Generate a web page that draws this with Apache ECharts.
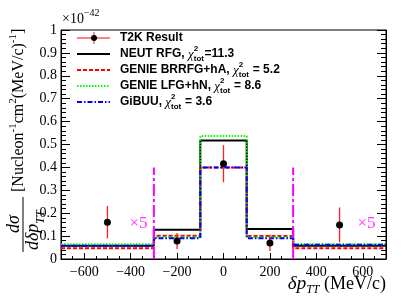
<!DOCTYPE html>
<html>
<head>
<meta charset="utf-8">
<script src="https://cdn.jsdelivr.net/npm/echarts@6/dist/echarts.min.js"></script>
<style>html,body{margin:0;padding:0;background:#fff;}#c{width:407px;height:305px;}</style>
</head>
<body>
<div id="c"></div>
<script>
// ---- data ----
const binEdges = [-700, -300, -100, 100, 300, 700];
const neutRFG = [0.058, 0.128, 0.517, 0.131, 0.058];
const genieBRRFG = [0.047, 0.101, 0.400, 0.100, 0.047];
const genieLFG = [0.064, 0.095, 0.537, 0.095, 0.064];
const gibuu = [0.058, 0.091, 0.400, 0.091, 0.062];
const t2kX = [-500, -200, 0, 200, 500];
const t2kY = [0.161, 0.079, 0.416, 0.070, 0.149];
const t2kErr = [0.071, 0.035, 0.081, 0.036, 0.076];
const xTickLabels = [-600, -400, -200, 0, 200, 400, 600];
const dividerX = [-300, 300];
const dividerTop = 0.4;
const scaleNotes = [[-366, 0.153], [616, 0.153]];
const legendNames = ['NEUT RFG, ', 'GENIE BRRFG+hA, ', 'GENIE LFG+hN, ', 'GiBUU, '];
const legendChi = ['=11.3', ' = 5.2', ' = 8.6', ' = 3.6'];

// ---- helpers ----
const SERIF = '"Liberation Serif", "DejaVu Serif", serif';
const SANS = '"Liberation Sans", Arial, sans-serif';
const cv = document.createElement('canvas').getContext('2d');
function tw(t, f) { cv.font = f; return cv.measureText(t).width; }
function run(x, y, parts, fill) {
  const els = [];
  let cx = x;
  parts.forEach(p => {
    if (p.stack) {
      let w = 0;
      p.stack.forEach(s => {
        els.push({ type: 'text', x: cx, y: y + (s.dy || 0), style: { text: s.t, font: s.f, fill: fill || '#000', textAlign: 'left', textVerticalAlign: 'middle', verticalAlign: 'middle' } });
        w = Math.max(w, tw(s.t, s.f));
      });
      cx += w + (p.gap || 0);
    } else {
      els.push({ type: 'text', x: cx, y: y + (p.dy || 0), style: { text: p.t, font: p.f, fill: fill || '#000', textAlign: 'left', textVerticalAlign: 'middle', verticalAlign: 'middle' } });
      cx += tw(p.t, p.f);
    }
  });
  return els;
}
function stepData(v) {
  const d = v.map((y, i) => [binEdges[i], y]);
  d.push([binEdges[binEdges.length - 1], v[v.length - 1]]);
  return d;
}
const fmtMinus = v => (v < 0 ? '\u2212' + Math.abs(v) : String(v));

const styles = [
  { color: '#000000', type: 'solid', width: 2 },
  { color: '#ff0000', type: [4, 2], width: 2 },
  { color: '#00ff00', type: [1.5, 1.5], width: 2 },
  { color: '#0000ff', type: [5, 2, 1.5, 2], width: 2 }
];
const models = [neutRFG, genieBRRFG, genieLFG, gibuu];

// ---- graphic (titles, legend) ----
const LF = 'bold 12px ' + SANS;
const CHI = 'italic 13px ' + SERIF;
const SUB = 'bold 8px ' + SANS;
const graphics = [];

graphics.push(...run(62, 19, [{ t: '\u00d710', f: '14px ' + SERIF }, { t: '\u221242', f: '10px ' + SERIF, dy: -6 }]));

(function () {
  const parts = [{ t: '\u03b4p', f: 'italic 19px ' + SERIF }, { t: 'TT', f: 'italic 12px ' + SERIF, dy: 6 }, { t: ' (MeV/c)', f: '18px ' + SERIF }];
  let w = 0; parts.forEach(p => w += tw(p.t, p.f));
  graphics.push(...run(386 - w, 284, parts));
})();

(function () {
  const ch = [];
  ch.push({ type: 'line', shape: { x1: 0, y1: 0, x2: 55, y2: 0 }, style: { stroke: '#000', lineWidth: 1 } });
  ch.push({ type: 'text', x: 28, y: -9, style: { text: 'd\u03c3', font: 'italic 18px ' + SERIF, fill: '#000', textAlign: 'center', textVerticalAlign: 'middle', verticalAlign: 'middle' } });
  ch.push(...run(2, 10, [{ t: 'd\u03b4p', f: 'italic 18px ' + SERIF }, { t: 'TT', f: 'italic 12px ' + SERIF, dy: 8 }]));
  const F = '16px ' + SERIF, S = '11px ' + SERIF;
  ch.push(...run(60, -4, [{ t: '[Nucleon', f: F }, { t: '-1', f: S, dy: -6 }, { t: 'cm', f: F }, { t: '2', f: S, dy: -6 }, { t: '(MeV/c)', f: F }, { t: '-1', f: S, dy: -6 }, { t: ']', f: F }]));
  graphics.push({ type: 'group', x: 23, y: 252, rotation: Math.PI / 2, children: ch });
})();

const rowY = [38, 54, 70, 86, 102];
graphics.push({ type: 'line', shape: { x1: 77, y1: rowY[0], x2: 110, y2: rowY[0] }, style: { stroke: '#ff0000', lineWidth: 1 } });
graphics.push({ type: 'line', shape: { x1: 94, y1: rowY[0] - 6, x2: 94, y2: rowY[0] + 6 }, style: { stroke: '#ff6666', lineWidth: 1.5 } });
graphics.push({ type: 'circle', shape: { cx: 94, cy: rowY[0], r: 3 }, style: { fill: '#000' } });
graphics.push(...run(120, rowY[0], [{ t: 'T2K Result', f: LF }]));
legendNames.forEach((n, i) => {
  const y = rowY[i + 1];
  const st = styles[i];
  graphics.push({ type: 'line', shape: { x1: 77, y1: y, x2: 110, y2: y }, style: { stroke: st.color, lineWidth: st.width, lineDash: st.type === 'solid' ? null : st.type } });
  graphics.push(...run(120, y, [{ t: n, f: LF }, { t: '\u03c7', f: CHI, dy: 1 }, { stack: [{ t: '2', f: SUB, dy: -5 }, { t: 'tot', f: SUB, dy: 5 }], gap: 0.5 }, { t: legendChi[i], f: LF }]));
});

// ---- series ----
const series = [];
models.forEach((m, i) => {
  const st = styles[i];
  series.push({ type: 'line', step: 'end', data: stepData(m), symbol: 'none', lineStyle: { color: st.color, type: st.type, width: st.width }, z: 2 + i, silent: true, animation: false });
});
series.push({
  type: 'custom', data: dividerX.map(x => [x]), z: 10, animation: false,
  renderItem: (p, api) => {
    const x = api.value(0);
    const a = api.coord([x, 0]), b = api.coord([x, dividerTop]);
    return { type: 'line', shape: { x1: a[0], y1: a[1], x2: b[0], y2: b[1] }, style: { stroke: '#ff00ff', lineWidth: 2, lineDash: [12, 3, 3, 3] } };
  }
});
series.push({
  type: 'custom', data: t2kX.map((x, i) => [x, t2kY[i], t2kErr[i]]), z: 11, animation: false,
  renderItem: (p, api) => {
    const x = api.value(0), y = api.value(1), e = api.value(2);
    const a = api.coord([x, y - e]), b = api.coord([x, y + e]);
    return { type: 'line', shape: { x1: a[0], y1: a[1], x2: b[0], y2: b[1] }, style: { stroke: '#ff2020', lineWidth: 1.3 } };
  }
});
series.push({ type: 'scatter', data: t2kX.map((x, i) => [x, t2kY[i]]), symbol: 'circle', symbolSize: 7, itemStyle: { color: '#000', opacity: 1 }, z: 12, animation: false });
series.push({
  type: 'scatter', data: scaleNotes, symbolSize: 0, z: 12, animation: false,
  label: { show: true, position: 'inside', formatter: '\u00d75', color: '#ff00ff', fontFamily: SERIF, fontSize: 17 }
});

const chart = echarts.init(document.getElementById('c'), null, { renderer: 'canvas' });
chart.setOption({
  animation: false,
  backgroundColor: '#fff',
  grid: { left: 61, right: 21, top: 30, bottom: 46, show: true, borderColor: '#000', borderWidth: 1, backgroundColor: 'transparent' },
  xAxis: [
    {
      type: 'value', min: -700, max: 700, position: 'bottom',
      axisLine: { show: true, onZero: false, lineStyle: { color: '#000', width: 1 } },
      axisTick: { show: true, inside: true, length: 6, customValues: xTickLabels, lineStyle: { color: '#000' } },
      axisLabel: { show: true, customValues: xTickLabels, formatter: fmtMinus, color: '#000', fontFamily: SERIF, fontSize: 14, margin: 6 },
      splitLine: { show: false }
    },
    {
      type: 'value', min: -700, max: 700, interval: 50, position: 'bottom',
      axisLine: { show: false, onZero: false },
      axisTick: { show: true, inside: true, length: 3, lineStyle: { color: '#000' } },
      axisLabel: { show: false }, splitLine: { show: false }
    }
  ],
  yAxis: [
    {
      type: 'value', min: 0, max: 1, interval: 0.1, position: 'left',
      axisLine: { show: true, onZero: false, lineStyle: { color: '#000' } },
      axisTick: { show: true, inside: true, length: 9, lineStyle: { color: '#000' } },
      minorTick: { show: true, splitNumber: 5, length: 5, lineStyle: { color: '#000' } },
      axisLabel: { color: '#000', fontFamily: SERIF, fontSize: 14, margin: 4 },
      splitLine: { show: false }, minorSplitLine: { show: false }
    },
    {
      type: 'value', min: 0, max: 1, interval: 0.1, position: 'right',
      axisLine: { show: true, onZero: false, lineStyle: { color: '#000' } },
      axisTick: { show: true, inside: true, length: 9, lineStyle: { color: '#000' } },
      minorTick: { show: true, splitNumber: 5, length: 5, lineStyle: { color: '#000' } },
      axisLabel: { show: false }, splitLine: { show: false }, minorSplitLine: { show: false }
    }
  ],
  graphic: graphics,
  series: series
});
</script>
</body>
</html>
